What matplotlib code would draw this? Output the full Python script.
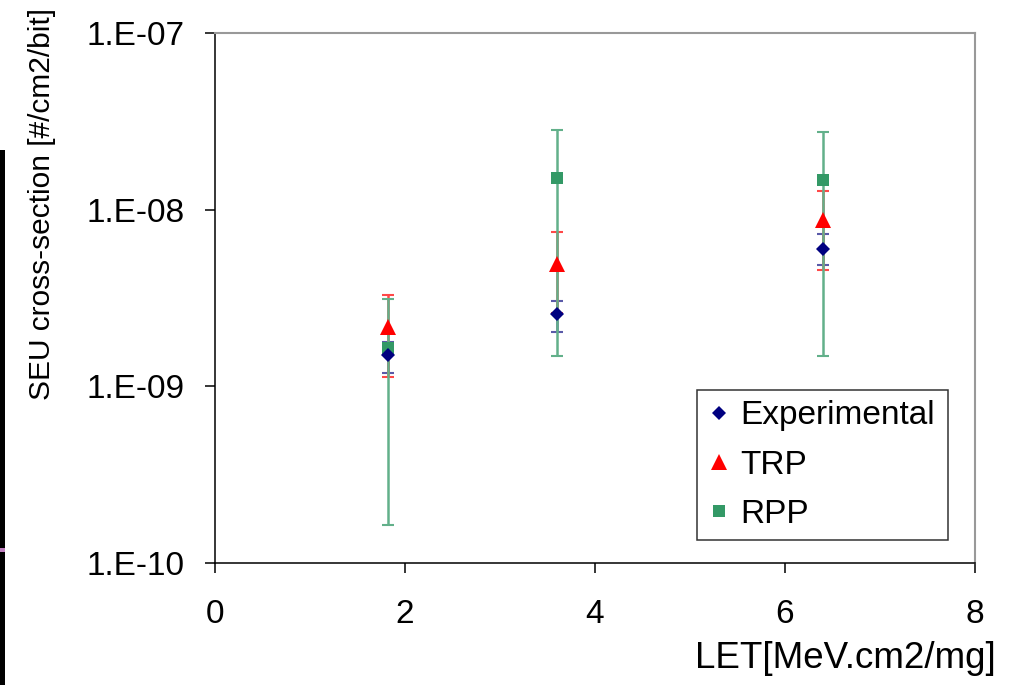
import matplotlib
matplotlib.use("Agg")
import matplotlib.pyplot as plt
from matplotlib.patches import Rectangle
from matplotlib.lines import Line2D

# ---- data ----
series_names = ["Experimental", "TRP", "RPP"]
let_values = [1.82, 3.6, 6.4]

exp_values = [1.51e-9, 2.57e-9, 6.0e-9]
exp_upper = [1.78e-9, 3.04e-9, 7.28e-9]
exp_lower = [1.19e-9, 2.03e-9, 4.86e-9]

trp_values = [2.17e-9, 4.93e-9, 8.75e-9]
trp_upper = [3.29e-9, 7.48e-9, 1.28e-8]
trp_lower = [1.13e-9, 2.60e-9, 4.56e-9]

rpp_values = [1.65e-9, 1.51e-8, 1.47e-8]
rpp_upper = [3.13e-9, 2.82e-8, 2.76e-8]
rpp_lower = [1.64e-10, 1.49e-9, 1.49e-9]

y_ticks = [1e-10, 1e-9, 1e-8, 1e-7]
y_tick_labels = ["1.E-10", "1.E-09", "1.E-08", "1.E-07"]
x_ticks = [0, 2, 4, 6, 8]
x_tick_labels = ["0", "2", "4", "6", "8"]

plt.rcParams['font.family'] = ['Liberation Sans', 'DejaVu Sans']

fig = plt.figure(figsize=(10.12, 6.85), dpi=100)
ax = fig.add_axes([215/1012, 1-563/685, 760/1012, 530/685])

styles = [
    dict(vals=exp_values, up=exp_upper, lo=exp_lower, color="#000080", ecolor="#5a5aa8",
         marker="D", ms=7, z=5),
    dict(vals=trp_values, up=trp_upper, lo=trp_lower, color="#FF0000", ecolor="#ff4848",
         marker="^", ms=11, z=4),
    dict(vals=rpp_values, up=rpp_upper, lo=rpp_lower, color="#339966", ecolor="#62b08a",
         marker="s", ms=8, z=3),
]

# error bars first (later series drawn over earlier ones)
for i, st in enumerate(styles):
    yerr = [[v - l for v, l in zip(st["vals"], st["lo"])],
            [u - v for v, u in zip(st["vals"], st["up"])]]
    ax.errorbar(let_values, st["vals"], yerr=yerr, fmt="none", ecolor=st["ecolor"],
                elinewidth=1.8, capsize=4.5, capthick=1.5, zorder=2 + i * 0.1)

# markers on top
handles = []
for name, st in zip(series_names, styles):
    ax.plot(let_values, st["vals"], linestyle="none", marker=st["marker"], ms=st["ms"],
            color=st["color"], markeredgewidth=0, zorder=st["z"])
    handles.append(Line2D([], [], linestyle="none", marker=st["marker"], ms=st["ms"],
                          color=st["color"], markeredgewidth=0, label=name))

ax.set_yscale("log")
ax.set_ylim(1e-10, 1e-7)
ax.set_xlim(0, 8)
ax.set_yticks(y_ticks)
ax.set_yticklabels(y_tick_labels)
ax.yaxis.set_minor_locator(matplotlib.ticker.NullLocator())
ax.set_xticks(x_ticks)
ax.set_xticklabels(x_tick_labels)

ax.tick_params(axis="both", direction="out", length=7, width=1.1, labelsize=24,
               color="black")
ax.tick_params(axis="x", pad=19)
ax.tick_params(axis="y", pad=15)

for s in ["left", "bottom"]:
    ax.spines[s].set_color("black")
    ax.spines[s].set_linewidth(1.1)
for s in ["top", "right"]:
    ax.spines[s].set_color("#999999")
    ax.spines[s].set_linewidth(1.5)

ax.set_ylabel("SEU cross-section [#/cm2/bit]", fontsize=21.5)
ax.yaxis.set_label_coords((42-215)/760, (563-204)/530)
ax.yaxis.label.set_verticalalignment("center")

ax.set_xlabel("LET[MeV.cm2/mg]", fontsize=26.5)
ax.xaxis.set_label_coords((996-215)/760, (563-659)/530)
ax.xaxis.label.set_horizontalalignment("right")
ax.xaxis.label.set_verticalalignment("center")

leg = ax.legend(handles=handles, loc="lower left",
                bbox_to_anchor=((697-215)/760, (563-540)/530, (948-697)/760, (540-390)/530),
                mode="expand", borderaxespad=0, fontsize=24, frameon=True, fancybox=False,
                handlelength=0.7, handletextpad=0.3, labelspacing=0.55, borderpad=0.3)
leg.get_frame().set_edgecolor("black")
leg.get_frame().set_linewidth(1.1)

# screenshot artefacts at left edge
fig.patches.append(Rectangle((0, 0), 5/1012, 1-150/685, transform=fig.transFigure,
                             facecolor="black", edgecolor="none"))
fig.patches.append(Rectangle((0, 1-552/685), 5/1012, 4/685, transform=fig.transFigure,
                             facecolor="#c080c0", edgecolor="none"))

fig.savefig("out.png", dpi=100)
